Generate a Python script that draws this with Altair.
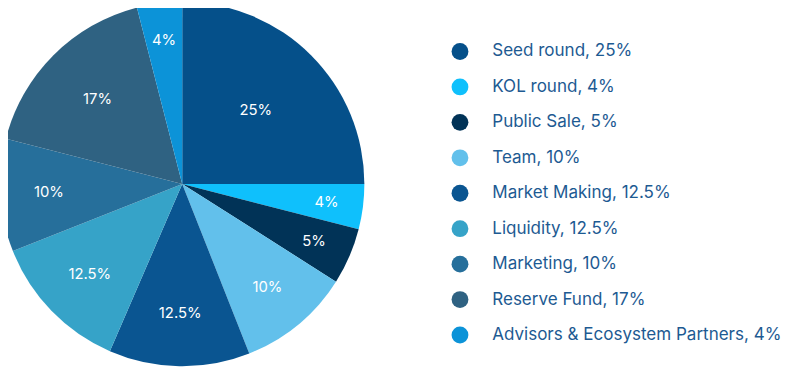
import altair as alt
import pandas as pd

categories = ["Seed round", "KOL round", "Public Sale", "Team", "Market Making",
              "Liquidity", "Marketing", "Reserve Fund", "Advisors & Ecosystem Partners"]
shares = [25, 4, 5, 10, 12.5, 12.5, 10, 17, 4]
pct_labels = ["25%", "4%", "5%", "10%", "12.5%", "12.5%", "10%", "17%", "4%"]
colors = ["#05508a", "#0fc0fc", "#013357", "#62c0eb", "#0a5591",
          "#36a3c8", "#266f9b", "#2f6282", "#0c93d8"]

legend_labels = [f"{c}, {p}" for c, p in zip(categories, pct_labels)]
df = pd.DataFrame({
    "legend": legend_labels,
    "share": shares,
    "pct": pct_labels,
    "idx": list(range(len(categories))),
})

CX, CY, R = 184, 184, 184

arcs = alt.Chart(df).mark_arc(outerRadius=R, stroke=None).encode(
    theta=alt.Theta("share:Q", stack=True),
    order=alt.Order("idx:Q"),
    x=alt.value(CX), y=alt.value(CY),
    color=alt.Color(
        "legend:N",
        scale=alt.Scale(domain=legend_labels, range=colors),
        sort=legend_labels,
        legend=alt.Legend(
            title=None, orient="none", legendX=456, legendY=41.5,
            symbolType="circle", symbolSize=289, symbolStrokeWidth=0,
            labelFontSize=17.2, labelFont="Inter", labelColor="#1d5a92",
            labelOffset=24, rowPadding=16.8, padding=0, labelLimit=400,
        ),
    ),
)

labels = alt.Chart(df).transform_window(
    cum="sum(share)", sort=[alt.SortField("idx")]
).transform_calculate(
    a="(datum.cum - datum.share / 2) / 100 * 2 * PI",
    r="155 - 2 * datum.share",
).transform_calculate(
    px=f"{CX} + datum.r * sin(datum.a)",
    py=f"{CY} - datum.r * cos(datum.a)",
).mark_text(font="Inter", fontSize=15, color="white").encode(
    x=alt.X("px:Q", scale=None),
    y=alt.Y("py:Q", scale=None),
    text="pct:N",
)

chart = alt.layer(arcs, labels).properties(
    width=800, height=369,
    padding={"left": -8, "top": -8, "right": 0, "bottom": 0},
    autosize=alt.AutoSizeParams(type="none"),
).configure_view(stroke=None)

chart.save("out.html", embed_options={"renderer": "svg", "actions": False})
